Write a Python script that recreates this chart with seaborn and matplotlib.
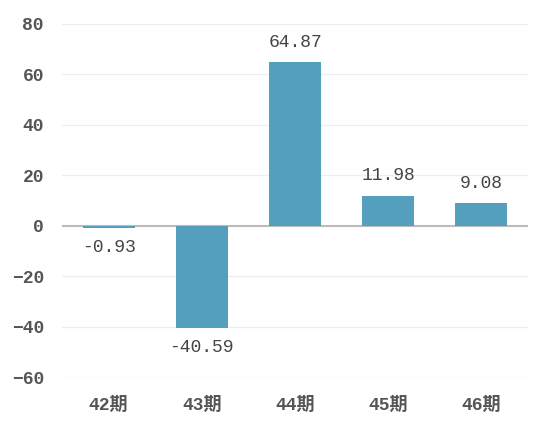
import matplotlib
matplotlib.use("Agg")
import matplotlib.pyplot as plt
import seaborn as sns

periods = ["42期", "43期", "44期", "45期", "46期"]
values = [-0.93, -40.59, 64.87, 11.98, 9.08]
yticks = [-60, -40, -20, 0, 20, 40, 60, 80]

sns.set_theme(style="white")
fam = ["Liberation Mono", "Noto Sans CJK SC", "DejaVu Sans"]
plt.rcParams["font.family"] = fam

fig = plt.figure(figsize=(5.38, 4.30), dpi=100)
ax = fig.add_axes([62 / 538, 1 - 377 / 430, 466 / 538, 353 / 430])

sns.barplot(x=periods, y=values, color="#539FBD", saturation=1, width=0.56,
            linewidth=0, ax=ax, zorder=3)

ax.set_ylim(-60, 80)
ax.set_xlim(-0.5, 4.5)
ax.set_yticks(yticks)
for y in yticks:
    if y != 0:
        ax.axhline(y, color="#eeeeee", lw=0.9, zorder=1)
ax.axhline(0, color="#bbbbbb", lw=1.5, zorder=2)

for s in ax.spines.values():
    s.set_visible(False)
ax.tick_params(axis="both", length=0)
ax.tick_params(axis="y", pad=13)
ax.tick_params(axis="x", pad=14)
for lab in ax.get_yticklabels() + ax.get_xticklabels():
    lab.set_fontsize(13)
    lab.set_fontweight("bold")
    lab.set_color("#555555")
    lab.set_family(fam)
ax.set_xlabel("")
ax.set_ylabel("")

ax.bar_label(ax.containers[0], labels=[f"{v:.2f}" for v in values], padding=8,
             fontsize=13, color="#444444", family=fam)

fig.savefig("out.png", dpi=100)
